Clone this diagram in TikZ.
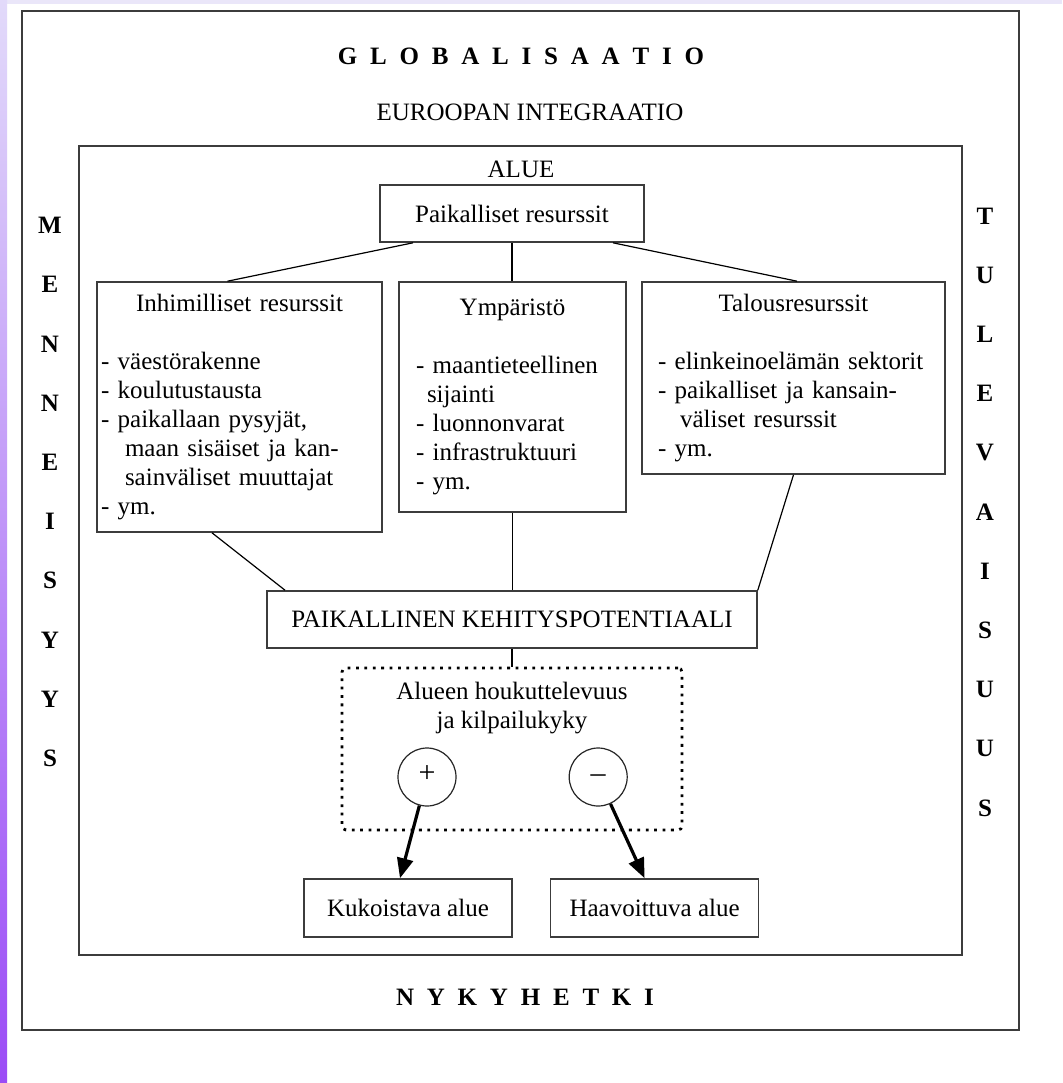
\documentclass[tikz,border=0pt]{standalone}
\usepackage{fontspec}
\setmainfont{Liberation Serif}
\usepackage{tikz}
\usetikzlibrary{positioning,arrows.meta}
\definecolor{kehys}{RGB}{60,60,60}
\definecolor{laventeli}{RGB}{234,230,249}
\definecolor{vaalea}{RGB}{226,218,250}
\definecolor{violetti}{RGB}{155,76,246}
\newcommand{\vali}{\hspace{6.4pt}}
\newcommand{\otsikko}[1]{\makebox[\linewidth]{#1}}

\begin{document}
\begin{tikzpicture}[x=0.5pt, y=-0.5pt,
    every node/.style={font=\fontsize{12.5}{14.5}\selectfont},
    laatikko/.style={draw=kehys, line width=0.8pt, inner sep=0pt},
    lista/.style={laatikko, align=left, inner xsep=0pt},
    yhteys/.style={draw=black, line width=0.6pt},
    pisteet/.style={draw=black, line width=1.4pt, dash pattern=on 1.4pt off 2.8pt, rounded corners=2pt, inner sep=0pt},
    merkki/.style={circle, draw=black!85, line width=0.6pt, minimum size=29pt, inner sep=0pt,
        text height=0.5em, text depth=0pt, font=\fontsize{15}{15}\selectfont},
    nuoli/.style={line width=1.6pt, -{Triangle[length=10pt,width=8pt]}},
    otsake/.style={font=\fontsize{12.5}{14.5}\selectfont\bfseries},
    sivu/.style={align=center, font=\fontsize{12.5}{29.6}\selectfont\bfseries}]
        % tausta ja reunat
        \useasboundingbox (0,0) rectangle (1062,1083);
        \fill[white] (0,0) rectangle (1062,1083);
        \fill[laventeli] (0,0) rectangle (1062,4);
        \shade[top color=vaalea, bottom color=violetti] (0,0) rectangle (7,1083);
        \draw[kehys, line width=0.85pt] (22,11) rectangle (1019,1030);
        \draw[kehys, line width=0.85pt] (79,146) rectangle (962,955);

        % otsikot
        \node[otsake] (globalisaatio) at (521,56) {G\vali L\vali O\vali B\vali A\vali L\vali I\vali S\vali A\vali A\vali T\vali I\vali O};
        \node (integraatio) at (530,112) {EUROOPAN INTEGRAATIO};
        \node (alue) at (521,169) {ALUE};
        \node[otsake] (nykyhetki) at (525,997) {N\vali Y\vali K\vali Y\vali H\vali E\vali T\vali K\vali I};
        \node[sivu] (menneisyys) at (50,492) {M\\E\\N\\N\\E\\I\\S\\Y\\Y\\S};
        \node[sivu] (tulevaisuus) at (985,512) {T\\U\\L\\E\\V\\A\\I\\S\\U\\U\\S};

        % resurssit
        \node[laatikko, minimum width=132pt, minimum height=28.5pt] (paikres) at (512,213.5) {Paikalliset resurssit};
        \node[lista, text width=142.5pt, minimum height=125pt] (inhimilliset) at (239.5,407) {\otsikko{Inhimilliset resurssit}\\[14.5pt]
            \hspace*{2pt}- väestörakenne\\
            \hspace*{2pt}- koulutustausta\\
            \hspace*{2pt}- paikallaan pysyjät,\\
            \hspace*{14pt}maan sisäiset ja kan-\\
            \hspace*{14pt}sainväliset muuttajat\\
            \hspace*{2pt}- ym.};
        \node[lista, text width=113.5pt, minimum height=115pt] (ymparisto) at (512.5,397) {\otsikko{Ympäristö}\\[14.5pt]
            \hspace*{8.5pt}- maantieteellinen\\
            \hspace*{14pt}sijainti\\
            \hspace*{8.5pt}- luonnonvarat\\
            \hspace*{8.5pt}- infrastruktuuri\\
            \hspace*{8.5pt}- ym.};
        \node[lista, text width=151.5pt, minimum height=96pt] (talous) at (793.5,378) {\otsikko{Talousresurssit}\\[14.5pt]
            \hspace*{8pt}- elinkeinoelämän sektorit\\
            \hspace*{8pt}- paikalliset ja kansain-\\
            \hspace*{19pt}väliset resurssit\\
            \hspace*{8pt}- ym.};

        \node[laatikko, minimum width=245pt, minimum height=28.5pt] (potentiaali) at (512,619.5) {PAIKALLINEN KEHITYSPOTENTIAALI};

        % houkuttelevuus
        \node[pisteet, minimum width=170pt, minimum height=81pt] (houkuttelevuus) at (512,749) {};
        \node[align=center] (kilpailukyky) at (512,708) {Alueen houkuttelevuus\\ja kilpailukyky};
        \node[merkki] (plus) at (427,777) {+};
        \node[merkki] (miinus) [right=56pt of plus] {–};

        \node[laatikko, minimum width=104pt, minimum height=29pt] (kukoistava) at (408,908) {Kukoistava alue};
        \node[laatikko, minimum width=104pt, minimum height=29pt] (haavoittuva) [right=18.5pt of kukoistava] {Haavoittuva alue};

        % yhteydet
        \draw[yhteys] ([xshift=-49.5pt]paikres.south) -- ([xshift=-6pt]inhimilliset.north);
        \draw[yhteys] (paikres.south) -- (paikres.south |- ymparisto.north);
        \draw[yhteys] ([xshift=50.5pt]paikres.south) -- ([xshift=1.75pt]talous.north);
        \draw[yhteys] ([xshift=-13.75pt]inhimilliset.south) -- ([xshift=-113.5pt]potentiaali.north);
        \draw[yhteys] (ymparisto.south) -- (ymparisto.south |- potentiaali.north);
        \draw[yhteys] (talous.south) -- (potentiaali.north east);
        \draw[yhteys] (potentiaali.south) -- (houkuttelevuus.north);
        \draw[nuoli] (plus) -- ([xshift=-4pt]kukoistava.north);
        \draw[nuoli] (miinus) -- ([xshift=-5pt]haavoittuva.north);
\end{tikzpicture}
\end{document}
